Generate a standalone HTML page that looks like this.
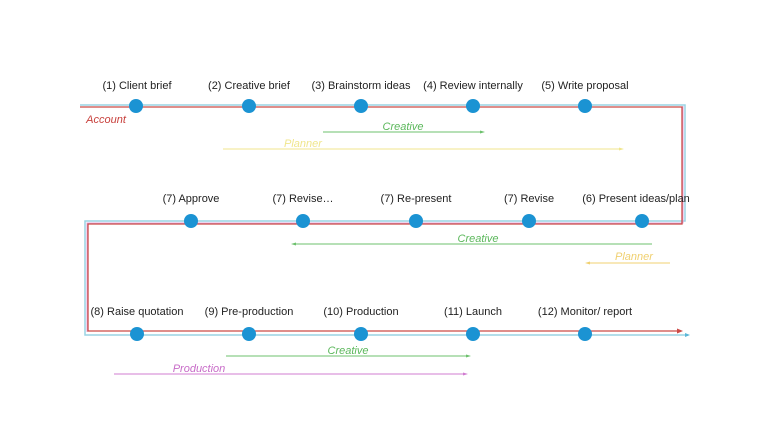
<!DOCTYPE html>
<html><head><meta charset="utf-8"><style>
html,body{margin:0;padding:0;background:#fff;}
svg{display:block;}
text{font-family:"Liberation Sans",sans-serif;}
</style></head><body>
<svg width="768" height="432" viewBox="0 0 768 432" xmlns="http://www.w3.org/2000/svg">
<rect width="768" height="432" fill="#fff"/>
<!-- blue path -->
<polyline points="80,105 685,105 685,221 85,221 85,335 688,335" fill="none" stroke="#9ad4e4" stroke-width="1.5"/>
<!-- pink path -->
<polyline points="683,106 683,223 87,223 87,332" fill="none" stroke="#dca8dc" stroke-width="1"/>
<!-- red path -->
<polyline points="80,107 682,107 682,224 88,224 88,331 680,331" fill="none" stroke="#cc4a46" stroke-width="1.3"/>
<polygon points="683,331 677,328.5 677,333.5" fill="#cc4a46"/>
<polygon points="690,335 685,333 685,337" fill="#5bb8d8"/>
<!-- dots -->
<g fill="#1b93d3">
<circle cx="136" cy="106" r="7"/><circle cx="249" cy="106" r="7"/><circle cx="361" cy="106" r="7"/><circle cx="473" cy="106" r="7"/><circle cx="585" cy="106" r="7"/>
<circle cx="191" cy="221" r="7"/><circle cx="303" cy="221" r="7"/><circle cx="416" cy="221" r="7"/><circle cx="529" cy="221" r="7"/><circle cx="642" cy="221" r="7"/>
<circle cx="137" cy="334" r="7"/><circle cx="249" cy="334" r="7"/><circle cx="361" cy="334" r="7"/><circle cx="473" cy="334" r="7"/><circle cx="585" cy="334" r="7"/>
</g>
<!-- labels -->
<g font-size="11" fill="#222" text-anchor="middle">
<text x="137" y="89">(1) Client brief</text>
<text x="249" y="89">(2) Creative brief</text>
<text x="361" y="89">(3) Brainstorm ideas</text>
<text x="473" y="89">(4) Review internally</text>
<text x="585" y="89">(5) Write proposal</text>
<text x="191" y="202">(7) Approve</text>
<text x="303" y="202">(7) Revise…</text>
<text x="416" y="202">(7) Re-present</text>
<text x="529" y="202">(7) Revise</text>
<text x="636" y="202">(6) Present ideas/plan</text>
<text x="137" y="315">(8) Raise quotation</text>
<text x="249" y="315">(9) Pre-production</text>
<text x="361" y="315">(10) Production</text>
<text x="473" y="315">(11) Launch</text>
<text x="585" y="315">(12) Monitor/ report</text>
</g>
<g font-size="11" font-style="italic" text-anchor="middle">
<text x="106" y="123" fill="#c8403c">Account</text>
<text x="403" y="130" fill="#5cb85c">Creative</text>
<text x="303" y="147" fill="#f0e68c">Planner</text>
<text x="478" y="242" fill="#5cb85c">Creative</text>
<text x="634" y="260" fill="#f0d070">Planner</text>
<text x="348" y="354" fill="#5cb85c">Creative</text>
<text x="199" y="372" fill="#c86cc8">Production</text>
</g>
<!-- role lines -->
<line x1="323" y1="132" x2="482" y2="132" stroke="#6cc06c" stroke-width="1"/>
<polygon points="485,132 480,130.5 480,133.5" fill="#6cc06c"/>
<line x1="223" y1="149" x2="621" y2="149" stroke="#f0e68c" stroke-width="1"/>
<polygon points="624,149 619,147.5 619,150.5" fill="#f0e68c"/>
<line x1="652" y1="244" x2="294" y2="244" stroke="#6cc06c" stroke-width="1"/>
<polygon points="291,244 296,242.5 296,245.5" fill="#6cc06c"/>
<line x1="670" y1="263" x2="588" y2="263" stroke="#f0d070" stroke-width="1"/>
<polygon points="585,263 590,261.5 590,264.5" fill="#f0d070"/>
<line x1="226" y1="356" x2="468" y2="356" stroke="#6cc06c" stroke-width="1"/>
<polygon points="471,356 466,354.5 466,357.5" fill="#6cc06c"/>
<line x1="114" y1="374" x2="465" y2="374" stroke="#d07cd0" stroke-width="1"/>
<polygon points="468,374 463,372.5 463,375.5" fill="#d07cd0"/>
</svg>
</body></html>
